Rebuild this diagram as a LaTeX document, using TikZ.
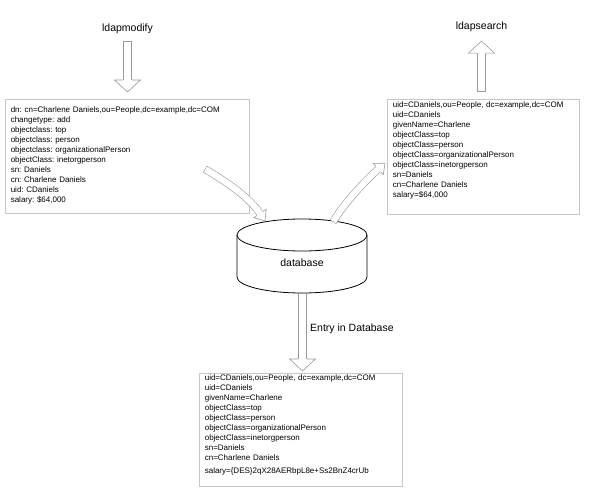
\documentclass[tikz,border=0pt]{standalone}
\usepackage{fontspec}
\setmainfont{Liberation Sans}
\usepackage{tikz}
\usetikzlibrary{decorations.markings}
\definecolor{arrowgray}{gray}{0.6}
\definecolor{boxgray}{gray}{0.78}
\frenchspacing

\begin{document}
\begin{tikzpicture}[x=1pt, y=-1pt,
    record/.style = {draw=boxgray, line width=0.6pt, anchor=north west, align=left, inner xsep=5.5pt, inner ysep=0pt, font=\fontsize{8}{10}\selectfont},
    cmdtext/.style = {inner sep=0pt, font=\fontsize{10.5}{12}\selectfont},
    dbline/.style = {line width=0.8pt},
    hollow/.style n args={5}{draw=arrowgray, line width=#1,
        postaction={draw=white, line width=#2, shorten <=0.6pt},
        postaction={decorate, decoration={markings, mark=at position 1 with
            {\filldraw[fill=white, draw=arrowgray, line width=0.6pt] (0pt,#3) -- (0pt,#4) -- (#5,0pt) -- (0pt,-#4) -- (0pt,-#3);}}}},
    bigarrow/.style = {hollow={8.6pt}{7.4pt}{4.3pt}{13pt}{12pt}},
    smallarrow/.style = {hollow={7.6pt}{6.4pt}{3.8pt}{7.5pt}{9pt}}]
    \useasboundingbox (0,0) rectangle (593,497);

    % commands
    \node[cmdtext] (modify) at (127.5,29) {ldapmodify};
    \node[cmdtext] (search) at (481.5,27) {ldapsearch};

    % entries
    \node[record, text width=233pt, text height=13.5pt, text depth=100.5pt] (added) at (5,99)
        {dn: cn=Charlene Daniels,ou=People,dc=example,dc=COM\\
         changetype: add\\
         objectclass: top\\
         objectclass: person\\
         objectclass: organizationalPerson\\
         objectClass: inetorgperson\\
         sn: Daniels\\
         cn: Charlene Daniels\\
         uid: CDaniels\\
         salary: \$64,000};
    \node[record, text width=181pt, text height=8.5pt, text depth=106.5pt] (found) at (387,99)
        {uid=CDaniels,ou=People, dc=example,dc=COM\\
         uid=CDaniels\\
         givenName=Charlene\\
         objectClass=top\\
         objectClass=person\\
         objectClass=organizationalPerson\\
         objectClass=inetorgperson\\
         sn=Daniels\\
         cn=Charlene Daniels\\
         salary=\$64,000};
    \node[record, text width=192pt, text height=7.5pt, text depth=105.5pt] (stored) at (199,373)
        {uid=CDaniels,ou=People, dc=example,dc=COM\\
         uid=CDaniels\\
         givenName=Charlene\\
         objectClass=top\\
         objectClass=person\\
         objectClass=organizationalPerson\\
         objectClass=inetorgperson\\
         sn=Daniels\\
         cn=Charlene Daniels\\[3pt]
         salary=\{DES\}2qX28AERbpL8e+Ss2BnZ4crUb};

    % database
    \coordinate (dbtop) at (302,235);
    \coordinate (dbbottom) at (302.5,293);
    \draw[dbline] (237,235) -- (237,277) arc[start angle=180, end angle=360, x radius=65pt, y radius=16pt] -- (367,235);
    \draw[dbline] (dbtop) ellipse [x radius=65pt, y radius=16pt];
    \node[cmdtext] (db) at (302,263) {database};
    \node[cmdtext, anchor=west] (entrylbl) at (310,329) {Entry in Database};

    % arrows
    \coordinate (addout) at (205,169);
    \coordinate (dbin) at (260,213.5);
    \coordinate (dbout) at (333,222);
    \coordinate (foundin) at (378.3,169.1);
    \draw[bigarrow] ([yshift=-7pt]modify.south) -- ([yshift=19pt]added.north -| modify);
    \draw[bigarrow] ([yshift=7pt]found.north -| search) -- ([yshift=-21pt]search.south);
    \draw[bigarrow] (dbbottom) -- ([yshift=14pt]stored.north -| dbbottom);
    \draw[smallarrow] (addout) .. controls (226.5,182) and (249,197) .. (dbin);
    \draw[smallarrow] (dbout) .. controls (343,204.6) and (364.8,181) .. (foundin);
\end{tikzpicture}
\end{document}
